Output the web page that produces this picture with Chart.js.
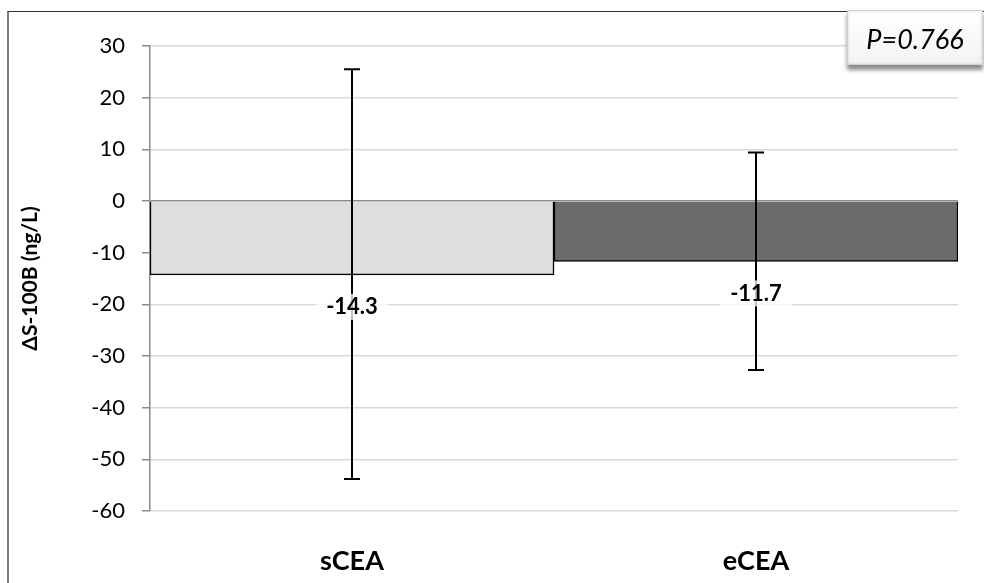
<!DOCTYPE html>
<html>
<head>
<meta charset="utf-8">
<script src="https://cdn.jsdelivr.net/npm/chart.js@4/dist/chart.umd.min.js"></script>
<style>
    html, body { margin: 0; padding: 0; background: #fff; }
    #wrap { position: relative; width: 984px; height: 583px; overflow: hidden; }
    #frame {
        position: absolute; left: 7px; top: 11px; width: 1000px; height: 600px;
        border-left: 2px solid #7a7a7a; border-top: 1px solid #333;
    }
    #pbox {
        position: absolute; left: 847px; top: 10px; width: 134px; height: 53px;
        border: 1px solid #d0d0d0;
        background: linear-gradient(#ffffff, #f3f3f3);
        box-shadow: 0 5px 4px rgba(0,0,0,0.45), inset 0 0 3px rgba(0,0,0,0.15);
        font: italic 27px Lato, sans-serif; color: #000;
        text-align: center; line-height: 56px;
    }
    canvas { position: absolute; left: 0; top: 0; }
</style>
</head>
<body>
<div id="wrap">
    <div id="frame"></div>
    <canvas id="chart" width="984" height="583"></canvas>
    <div id="pbox">P=0.766</div>
</div>
<script>
// Daten
const categories = ['sCEA', 'eCEA'];
const means = [-14.3, -11.7];
const errUpper = [25.5, 9.4];
const errLower = [-53.8, -32.7];
const barColors = ['#dedede', '#6b6b6b'];
const yTicks = [30, 20, 10, 0, -10, -20, -30, -40, -50, -60];

// Fehlerbalken + Wertelabels
const errorBarPlugin = {
    id: 'errorBars',
    afterDatasetsDraw(chart) {
        const ctx = chart.ctx;
        const y = chart.scales.y;
        const meta = chart.getDatasetMeta(0);
        ctx.save();
        meta.data.forEach((bar, i) => {
            const x = bar.x;
            const top = y.getPixelForValue(errUpper[i]);
            const bot = y.getPixelForValue(errLower[i]);
            ctx.strokeStyle = '#000';
            ctx.lineWidth = 2;
            ctx.beginPath();
            ctx.moveTo(x, top); ctx.lineTo(x, bot);
            ctx.moveTo(x - 8, top); ctx.lineTo(x + 8, top);
            ctx.moveTo(x - 8, bot); ctx.lineTo(x + 8, bot);
            ctx.stroke();

            // Label
            const ly = y.getPixelForValue(means[i]) + 32;
            ctx.font = 'bold 22px Lato, sans-serif';
            const txt = means[i].toFixed(1);
            const w = ctx.measureText(txt).width;
            ctx.fillStyle = 'rgba(255,255,255,0.75)';
            ctx.fillRect(x - w / 2 - 10, ly - 13, w + 20, 26);
            ctx.fillStyle = '#000';
            ctx.textAlign = 'center';
            ctx.textBaseline = 'middle';
            ctx.fillText(txt, x, ly);
        });
        ctx.restore();
    }
};

new Chart(document.getElementById('chart'), {
    type: 'bar',
    data: {
        labels: categories,
        datasets: [{
            data: means,
            backgroundColor: barColors,
            borderColor: '#000',
            borderWidth: 1.5,
            categoryPercentage: 1,
            barPercentage: 1
        }]
    },
    options: {
        responsive: false,
        animation: false,
        layout: { padding: { left: 0, right: 26, top: 46, bottom: 0 } },
        plugins: { legend: { display: false }, tooltip: { enabled: false } },
        scales: {
            x: {
                grid: { display: false },
                border: { display: false },
                ticks: {
                    color: '#000',
                    padding: 26,
                    font: { family: 'Lato', size: 27, weight: 'bold' }
                },
                afterFit(scale) { scale.height = 72; }
            },
            y: {
                min: -60,
                max: 30,
                afterBuildTicks(scale) {
                    scale.ticks = yTicks.map(v => ({ value: v }));
                },
                grid: {
                    color: ctx => ctx.tick && ctx.tick.value === 0 ? '#8c8c8c' : '#d9d9d9',
                    lineWidth: 1.5,
                    tickLength: 8,
                    tickColor: '#8c8c8c'
                },
                border: { color: '#8c8c8c', width: 1.5 },
                ticks: {
                    color: '#000',
                    padding: 17,
                    font: { family: 'Lato', size: 22 }
                },
                title: {
                    display: true,
                    text: 'ΔS-100B (ng/L)',
                    color: '#000',
                    padding: { top: 18, bottom: 0 },
                    font: { family: 'Lato', size: 21, weight: 'bold' }
                },
                afterFit(scale) { scale.width = 150; }
            }
        }
    },
    plugins: [errorBarPlugin]
});
</script>
</body>
</html>
